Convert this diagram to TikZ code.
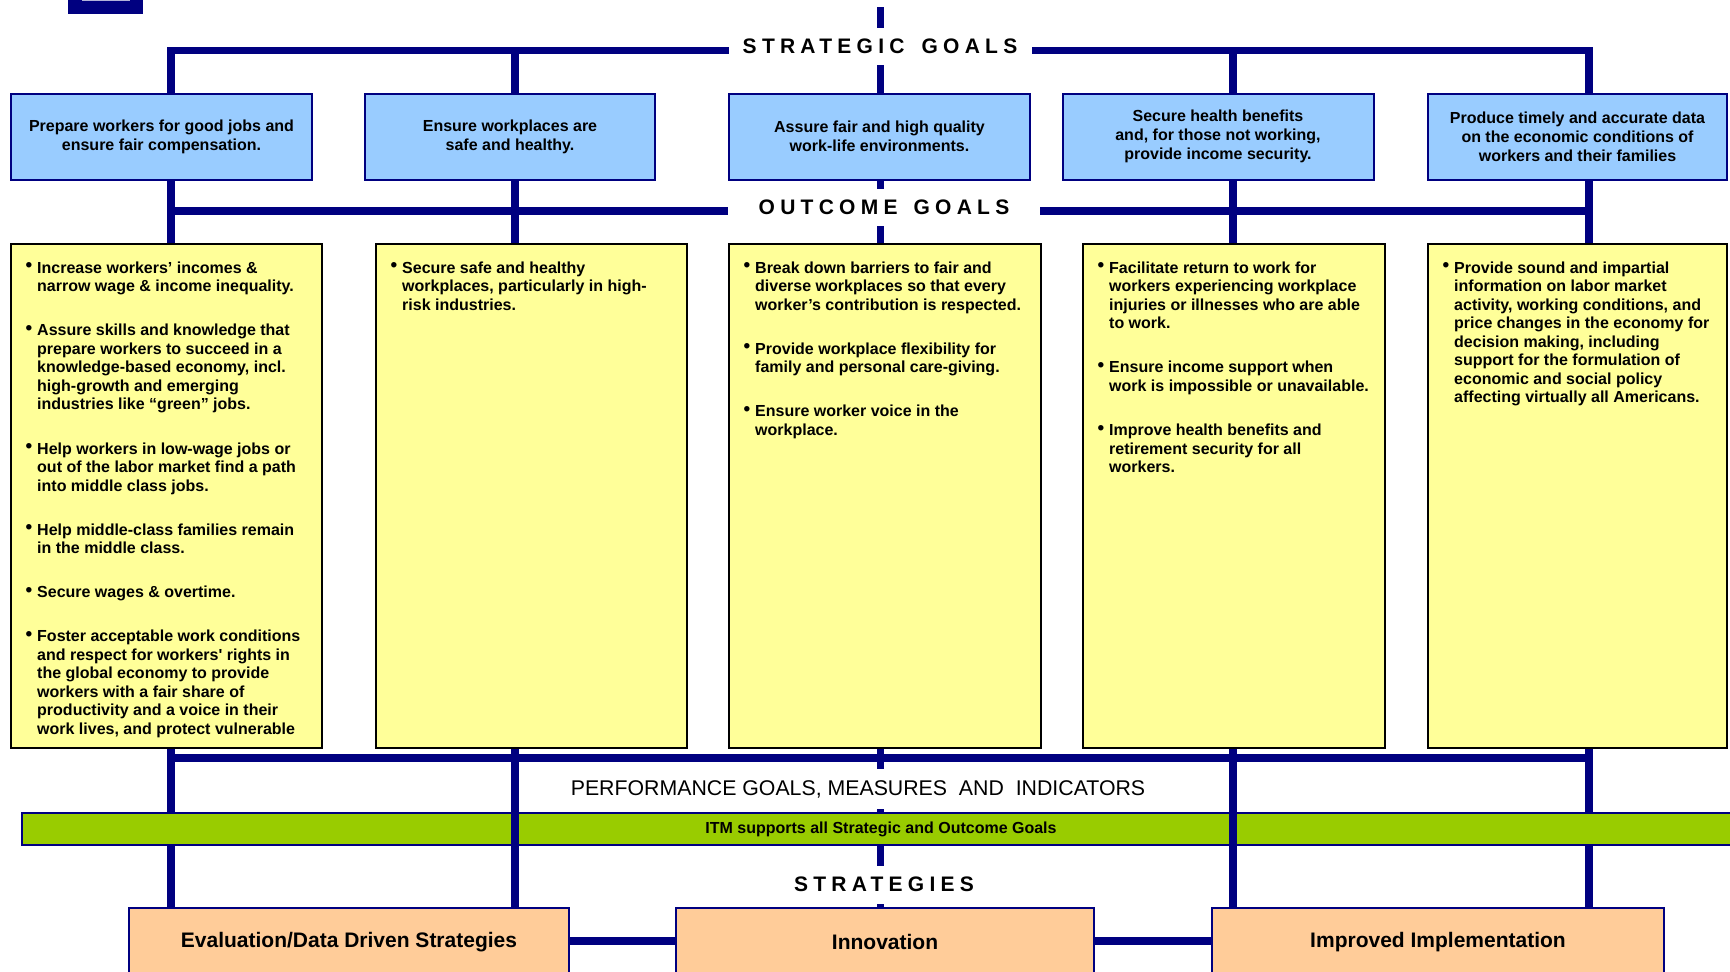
\documentclass[tikz,border=0pt]{standalone}
\usepackage{fontspec}
\setmainfont{Liberation Sans}
\newfontfamily\hdrfont[LetterSpace=25]{Liberation Sans}
\usepackage{tikz}
\usetikzlibrary{positioning,backgrounds}
\definecolor{navy}{RGB}{0,0,128}
\definecolor{goalblue}{RGB}{153,204,255}
\definecolor{outyellow}{RGB}{255,255,153}
\definecolor{stratorange}{RGB}{255,204,153}
\definecolor{itmgreen}{RGB}{153,204,0}
\newcommand{\bul}{\leavevmode\llap{\raisebox{1.5pt}{\fontsize{19}{19}\selectfont\textbullet}\kern5pt}}
\tikzstyle{goal}=[draw=navy, line width=2pt, fill=goalblue, minimum height=86pt, inner sep=0pt, align=center, font=\bfseries\fontsize{16}{19}\selectfont]
\tikzstyle{outc}=[draw=black, line width=2pt, fill=outyellow, minimum height=504pt, inner sep=0pt]
\tikzstyle{outtxt}=[inner sep=0pt, align=left, font=\bfseries\fontsize{16}{18.5}\selectfont]
\tikzstyle{strat}=[draw=navy, line width=2pt, fill=stratorange, minimum height=68pt, inner sep=0pt, font=\bfseries\fontsize{21}{25}\selectfont]
\tikzstyle{hdr}=[fill=white, inner sep=0pt, font=\hdrfont\bfseries\fontsize{21}{25}\selectfont]
\tikzstyle{bus}=[draw=navy, line width=7.5pt]

\begin{document}
\begin{tikzpicture}[x=1pt,y=-1pt]
\useasboundingbox (0,0) rectangle (1730,972);
\clip (0,0) rectangle (1730,972);

\fill[navy] (68,0) rectangle (143,14);
\fill[navy!30] (82,0) rectangle (130,1.2);

\coordinate (c1) at (171,50.5);
\coordinate (c2) at (515,50.5);
\coordinate (c3) at (880.5,7);
\coordinate (c4) at (1233,50.5);
\coordinate (c5) at (1589,50.5);
\coordinate (ol) at (171,211);
\coordinate (pl) at (171,758);

% strategic goals
\node[goal, minimum width=301pt] at (161.5,136.5) (g1) {Prepare workers for good jobs and\\ensure fair compensation.};
\node[goal, minimum width=290pt] at (510,136.5) (g2) {Ensure workplaces are\\safe and healthy.};
\node[goal, minimum width=301pt] at (879.5,136.5) (g3) {Assure fair and high quality\\work-life environments.};
\node[goal, minimum width=311pt] at (1218,136.5) (g4) {Secure health benefits\\and, for those not working,\\provide income security.};
\node[goal, minimum width=299pt] at (1577.5,136.5) (g5) {Produce timely and accurate data\\on the economic conditions of\\workers and their families};

\node[hdr, minimum width=303pt, minimum height=37pt] at (880,46.5) (sg) {STRATEGIC\hspace{6pt} GOALS};
\node[hdr, minimum width=312pt, minimum height=37pt] at (884,207.5) (og) {OUTCOME\hspace{5pt} GOALS};

% outcome goals
\node[outc, minimum width=311pt] at (166.5,496) (y1) {};
\node[outc, minimum width=311pt] at (531.5,496) (y2) {};
\node[outc, minimum width=312pt] at (885,496) (y3) {};
\node[outc, minimum width=302pt] at (1234,496) (y4) {};
\node[outc, minimum width=299pt] at (1577.5,496) (y5) {};

\node[outtxt, below right=18.5pt and 27pt of y1.north west] (t1) {%
\bul Increase workers’ incomes \&\\narrow wage \& income inequality.\\[25.6pt]
\bul Assure skills and knowledge that\\prepare workers to succeed in a\\knowledge-based economy, incl.\\high-growth and emerging\\industries like “green” jobs.\\[25.6pt]
\bul Help workers in low-wage jobs or\\out of the labor market find a path\\into middle class jobs.\\[25.6pt]
\bul Help middle-class families remain\\in the middle class.\\[25.6pt]
\bul Secure wages \& overtime.\\[25.6pt]
\bul Foster acceptable work conditions\\and respect for workers\textquotesingle\ rights in\\the global economy to provide\\workers with a fair share of\\productivity and a voice in their\\work lives, and protect vulnerable};
\node[outtxt, below right=18.5pt and 27pt of y2.north west] (t2) {%
\bul Secure safe and healthy\\workplaces, particularly in high-\\risk industries.};
\node[outtxt, below right=18.5pt and 27pt of y3.north west] (t3) {%
\bul Break down barriers to fair and\\diverse workplaces so that every\\worker’s contribution is respected.\\[25.6pt]
\bul Provide workplace flexibility for\\family and personal care-giving.\\[25.6pt]
\bul Ensure worker voice in the\\workplace.};
\node[outtxt, below right=18.5pt and 27pt of y4.north west] (t4) {%
\bul Facilitate return to work for\\workers experiencing workplace\\injuries or illnesses who are able\\to work.\\[25.6pt]
\bul Ensure income support when\\work is impossible or unavailable.\\[25.6pt]
\bul Improve health benefits and\\retirement security for all\\workers.};
\node[outtxt, below right=18.5pt and 27pt of y5.north west] (t5) {%
\bul Provide sound and impartial\\information on labor market\\activity, working conditions, and\\price changes in the economy for\\decision making, including\\support for the formulation of\\economic and social policy\\affecting virtually all Americans.};

\node[fill=white, inner sep=0pt, minimum width=610pt, minimum height=40pt, font=\fontsize{21.3}{25}\selectfont] at (858,789) (perf) {PERFORMANCE GOALS, MEASURES~ AND~ INDICATORS};
\node[draw=navy, line width=2pt, fill=itmgreen, minimum width=1718pt, minimum height=32pt, inner sep=0pt, font=\bfseries\fontsize{16}{19}\selectfont] at (881,829) (itm) {ITM supports all Strategic and Outcome Goals};
\node[hdr, minimum width=200pt, minimum height=38pt] at (884,884.5) (st) {STRATEGIES};

% strategies
\node[strat, minimum width=440pt] at (349,942) (e1) {Evaluation/Data Driven Strategies};
\node[strat, minimum width=418pt] at (885,942) (e2) {Innovation};
\node[strat, minimum width=452pt] at (1438,942) (e3) {Improved Implementation};

\begin{scope}[on background layer]
\draw[bus] (c1 |- e1.north) -- (c1) -- (c5) -- (c5 |- e3.north);
\draw[bus] (c2) -- (c2 |- e1.north);
\draw[bus] (c4) -- (c4 |- e3.north);
\draw[bus] (ol) -- (c5 |- ol);
\draw[bus] (pl) -- (c5 |- pl);
\draw[bus] (c3) -- (c3 |- e2.north);
\end{scope}

\draw[bus] (c2 |- itm.north) -- (c2 |- itm.south);
\draw[bus] (c4 |- itm.north) -- (c4 |- itm.south);
\draw[bus, line width=8pt] ([yshift=1pt]e1.east) -- ([yshift=1pt]e2.west);
\draw[bus, line width=8pt] ([yshift=1pt]e2.east) -- ([yshift=1pt]e3.west);
\end{tikzpicture}
\end{document}
